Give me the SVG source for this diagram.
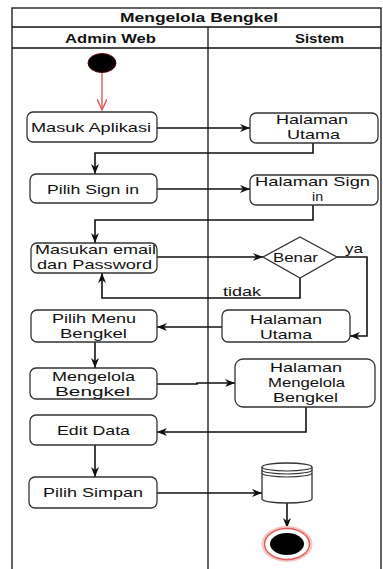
<svg xmlns="http://www.w3.org/2000/svg" width="383" height="569" viewBox="0 0 383 569">
  <defs>
    <style>
      .lane { fill: none; stroke: #111; stroke-width: 1.3; }
      .box { fill: #fff; stroke: #333; stroke-width: 1.3; }
      .conn { fill: none; stroke: #111; stroke-width: 1.6; }
      .t { font-family: "Liberation Sans", Arial, sans-serif; font-size: 13px; fill: #111; text-anchor: start; }
      .h { font-family: "Liberation Sans", Arial, sans-serif; font-size: 13px; font-weight: bold; fill: #111; }
    </style>
    <marker id="arrow" viewBox="0 0 10 8" refX="10" refY="4" markerWidth="10" markerHeight="8" markerUnits="userSpaceOnUse" orient="auto">
      <path d="M0,0 L10,4 L0,8 L3,4 z" fill="#111"/>
    </marker>
    <marker id="openRed" viewBox="0 0 12 10" refX="11" refY="5" markerWidth="12" markerHeight="10" markerUnits="userSpaceOnUse" orient="auto">
      <path d="M0,0 L11,5 L0,10" fill="none" stroke="#e05a5a" stroke-width="1.4"/>
    </marker>
  </defs>

  <rect x="0" y="0" width="383" height="569" fill="#fff"/>

  <!-- swimlane frame -->
  <g id="swimlanes">
    <rect class="lane" x="12" y="8" width="369" height="562"/>
    <line class="lane" x1="12" y1="27" x2="381" y2="27"/>
    <line class="lane" x1="12" y1="48" x2="381" y2="48"/>
    <line class="lane" x1="208" y1="27" x2="208" y2="569"/>
    <text class="h" x="120" y="22" textLength="158" lengthAdjust="spacingAndGlyphs">Mengelola Bengkel</text>
    <text class="h" x="65" y="43" textLength="91" lengthAdjust="spacingAndGlyphs">Admin Web</text>
    <text class="h" x="295" y="43" textLength="49" lengthAdjust="spacingAndGlyphs">Sistem</text>
  </g>

  <!-- connectors -->
  <g id="connectors">
    <path d="M102,73 V110" fill="none" stroke="#e05a5a" stroke-width="1.4" marker-end="url(#openRed)"/>
    <path class="conn" d="M157,128 H250" marker-end="url(#arrow)"/>
    <path class="conn" d="M313,143 V153 H95 V174" marker-end="url(#arrow)"/>
    <path class="conn" d="M157,189 H250" marker-end="url(#arrow)"/>
    <path class="conn" d="M313,205 V220 H95 V243" marker-end="url(#arrow)"/>
    <path class="conn" d="M157,257 H263" marker-end="url(#arrow)"/>
    <path class="conn" d="M337,257 H367 V336 H350" marker-end="url(#arrow)"/>
    <path class="conn" d="M300,278 V298 H102 V273" marker-end="url(#arrow)"/>
    <path class="conn" d="M222,327 H157" marker-end="url(#arrow)"/>
    <path class="conn" d="M95,342 V368" marker-end="url(#arrow)"/>
    <path class="conn" d="M157,384 H197 V383 H235" marker-end="url(#arrow)"/>
    <path class="conn" d="M306,407 V432 H157" marker-end="url(#arrow)"/>
    <path class="conn" d="M95,445 V477" marker-end="url(#arrow)"/>
    <path class="conn" d="M157,493 H262" marker-end="url(#arrow)"/>
    <path class="conn" d="M287,503 V528" marker-end="url(#arrow)"/>
    <text class="t" x="345" y="253" textLength="18" lengthAdjust="spacingAndGlyphs">ya</text>
    <text class="t" x="223" y="296" textLength="38" lengthAdjust="spacingAndGlyphs">tidak</text>
  </g>

  <!-- start -->
  <g id="start">
    <ellipse cx="102" cy="63" rx="14" ry="9.5" fill="#000" stroke="#5a0a0a" stroke-width="1"/>
  </g>

  <g id="masuk-aplikasi">
    <rect class="box" x="27" y="112" width="130" height="30" rx="6"/>
    <text class="t" x="31" y="132" textLength="120" lengthAdjust="spacingAndGlyphs">Masuk Aplikasi</text>
  </g>

  <g id="halaman-utama-1">
    <rect class="box" x="250" y="113" width="128" height="30" rx="6"/>
    <text class="t" x="276" y="124" textLength="72" lengthAdjust="spacingAndGlyphs">Halaman</text>
    <text class="t" x="287" y="139" textLength="53" lengthAdjust="spacingAndGlyphs">Utama</text>
  </g>

  <g id="pilih-sign-in">
    <rect class="box" x="30" y="174" width="127" height="29" rx="6"/>
    <text class="t" x="47" y="194" textLength="92" lengthAdjust="spacingAndGlyphs">Pilih Sign in</text>
  </g>

  <g id="halaman-sign-in">
    <rect class="box" x="250" y="175" width="128" height="30" rx="6"/>
    <text class="t" x="255" y="186" textLength="115" lengthAdjust="spacingAndGlyphs">Halaman Sign</text>
    <text class="t" x="312" y="201" textLength="11" lengthAdjust="spacingAndGlyphs">in</text>
  </g>

  <g id="masukan-email">
    <rect class="box" x="31" y="243" width="126" height="30" rx="6"/>
    <text class="t" x="35" y="254" textLength="121" lengthAdjust="spacingAndGlyphs">Masukan email</text>
    <text class="t" x="37" y="269" textLength="115" lengthAdjust="spacingAndGlyphs">dan Password</text>
  </g>

  <g id="benar">
    <path class="box" d="M300,237 L337,257 L300,278 L263,257 Z"/>
    <text class="t" x="273" y="262" textLength="45" lengthAdjust="spacingAndGlyphs">Benar</text>
  </g>

  <g id="pilih-menu-bengkel">
    <rect class="box" x="31" y="310" width="126" height="32" rx="6"/>
    <text class="t" x="52" y="323" textLength="84" lengthAdjust="spacingAndGlyphs">Pilih Menu</text>
    <text class="t" x="60" y="338" textLength="67" lengthAdjust="spacingAndGlyphs">Bengkel</text>
  </g>

  <g id="halaman-utama-2">
    <rect class="box" x="222" y="310" width="128" height="32" rx="6"/>
    <text class="t" x="250" y="324" textLength="72" lengthAdjust="spacingAndGlyphs">Halaman</text>
    <text class="t" x="260" y="339" textLength="52" lengthAdjust="spacingAndGlyphs">Utama</text>
  </g>

  <g id="mengelola-bengkel">
    <rect class="box" x="30" y="368" width="127" height="31" rx="6"/>
    <text class="t" x="52" y="381" textLength="83" lengthAdjust="spacingAndGlyphs">Mengelola</text>
    <text class="t" x="55" y="396" textLength="75" lengthAdjust="spacingAndGlyphs">Bengkel</text>
  </g>

  <g id="halaman-mengelola-bengkel">
    <rect class="box" x="235" y="359" width="140" height="48" rx="8"/>
    <text class="t" x="270" y="372" textLength="72" lengthAdjust="spacingAndGlyphs">Halaman</text>
    <text class="t" x="268" y="387" textLength="77" lengthAdjust="spacingAndGlyphs">Mengelola</text>
    <text class="t" x="273" y="402" textLength="65" lengthAdjust="spacingAndGlyphs">Bengkel</text>
  </g>

  <g id="edit-data">
    <rect class="box" x="30" y="415" width="127" height="30" rx="6"/>
    <text class="t" x="57" y="435" textLength="73" lengthAdjust="spacingAndGlyphs">Edit Data</text>
  </g>

  <g id="pilih-simpan">
    <rect class="box" x="29" y="477" width="128" height="31" rx="6"/>
    <text class="t" x="43" y="497" textLength="100" lengthAdjust="spacingAndGlyphs">Pilih Simpan</text>
  </g>

  <g id="database">
    <path class="box" d="M262,467 A25,4 0 0 1 312,467 V499 A25,4 0 0 1 262,499 Z"/>
    <path fill="none" stroke="#333" stroke-width="1.1" d="M262,467 A25,4 0 0 0 312,467 M262,470 A25,4 0 0 0 312,470 M262,473 A25,4 0 0 0 312,473"/>
  </g>

  <g id="end">
    <ellipse cx="287" cy="544" rx="24.5" ry="17" fill="none" stroke="#f3c4c4" stroke-width="2"/>
    <ellipse cx="287" cy="544" rx="22.5" ry="15.5" fill="#fff" stroke="#e05a5a" stroke-width="1.5"/>
    <ellipse cx="287" cy="544" rx="17" ry="11" fill="#000"/>
  </g>
</svg>
